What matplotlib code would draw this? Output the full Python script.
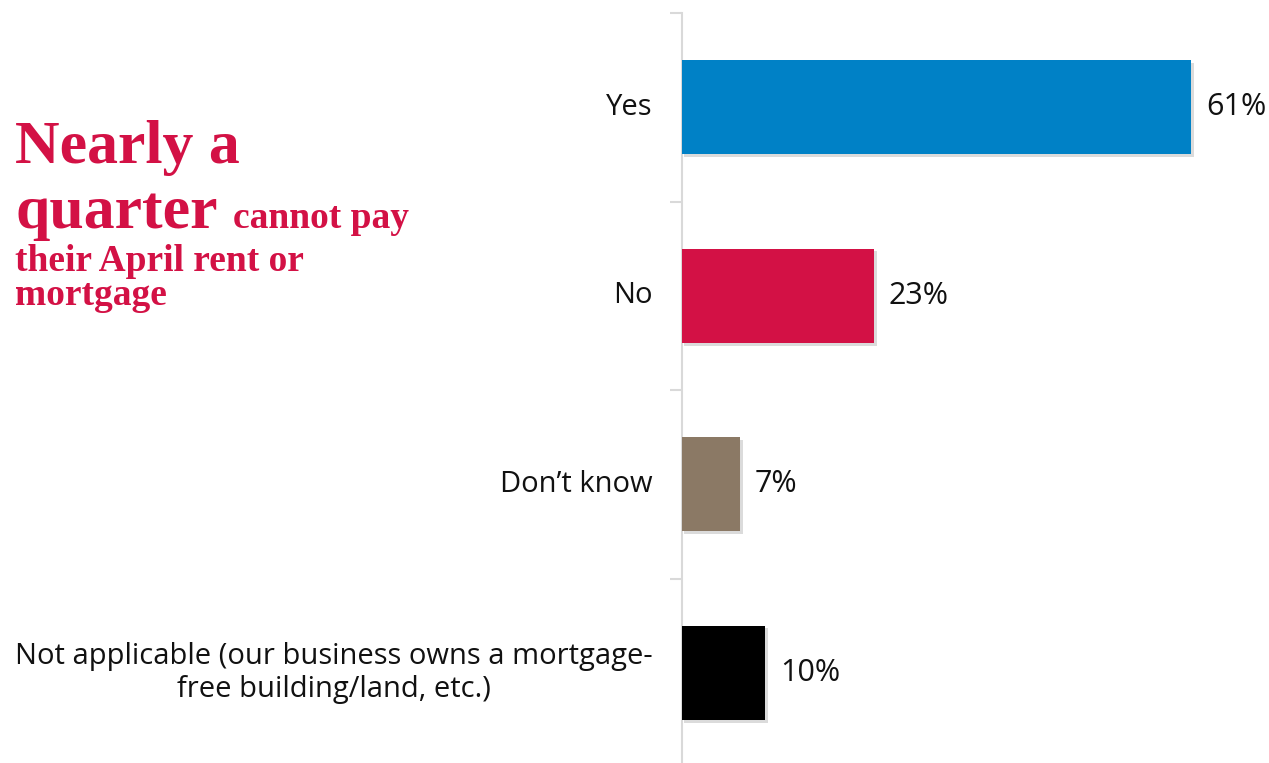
import matplotlib
matplotlib.use("Agg")
import matplotlib.pyplot as plt
import matplotlib.patheffects as pe

categories = ["Yes", "No", "Don\u2019t know",
              "Not applicable (our business owns a mortgage-\nfree building/land, etc.)"]
values = [61, 23, 7, 10]
colors = ["#0081C6", "#D31145", "#8B7965", "#000000"]

W, H = 1269, 763
fig = plt.figure(figsize=(W / 100, H / 100), dpi=100)

# axes box in pixel terms: axis line at x=681, categories span y=13..767
left, top, bottom = 681.5, 13, 767
ax = fig.add_axes([left / W, 1 - bottom / H, 1 - left / W, (bottom - top) / H])

y = range(len(categories))
bars = ax.barh(list(y), values, height=0.5, color=colors, zorder=3)
for b in bars:
    b.set_path_effects([pe.SimplePatchShadow(offset=(2, -2), shadow_rgbFace="#888888", alpha=0.3),
                        pe.Normal()])

ax.set_xlim(0, (W - left) / 8.36)
ax.set_ylim(len(categories) - 0.5, -0.5)

for s in ["top", "right", "bottom"]:
    ax.spines[s].set_visible(False)
ax.spines["left"].set_color("#D9D9D9")
ax.spines["left"].set_linewidth(1.5)
ax.set_xticks([])
ax.set_yticks([i - 0.5 for i in range(len(categories) + 1)])
ax.set_yticklabels([])
ax.tick_params(axis="y", length=9, width=1.5, color="#D9D9D9")

label_font = ["Open Sans", "DejaVu Sans"]
for i, (cat, v) in enumerate(zip(categories, values)):
    ax.annotate(cat, xy=(0, i), xytext=(-29, 0), textcoords="offset pixels",
                ha="right", va="center", multialignment="center",
                fontsize=21, family=label_font, color="#111111", linespacing=1.2)
    ax.annotate(f"{v}%", xy=(v, i), xytext=(15, 0), textcoords="offset pixels",
                ha="left", va="center", fontsize=22, family=label_font,
                color="#111111")

# headline block on the left
red = "#D31145"
serif = ["Liberation Serif", "DejaVu Serif"]
fig.text(15 / W, 1 - 163 / H, "Nearly a", fontsize=44.5, fontweight="bold",
         family=serif, color=red, va="baseline")
q = fig.text(15 / W, 1 - 228 / H, "quarter", fontsize=44.5, fontweight="bold",
             family=serif, color=red, va="baseline")
fig.canvas.draw()
qx1 = q.get_window_extent().x1
fig.text((qx1 + 16) / W, 1 - 228 / H, "cannot pay", fontsize=27, fontweight="bold",
         family=serif, color=red, va="baseline")
# baseline of the last line ("mortgage")
fig.text(15 / W, 1 - 305 / H, "their April rent or\nmortgage", fontsize=27,
         fontweight="bold", family=serif, color=red, va="baseline", linespacing=0.97)

fig.savefig("out.png", dpi=100)
